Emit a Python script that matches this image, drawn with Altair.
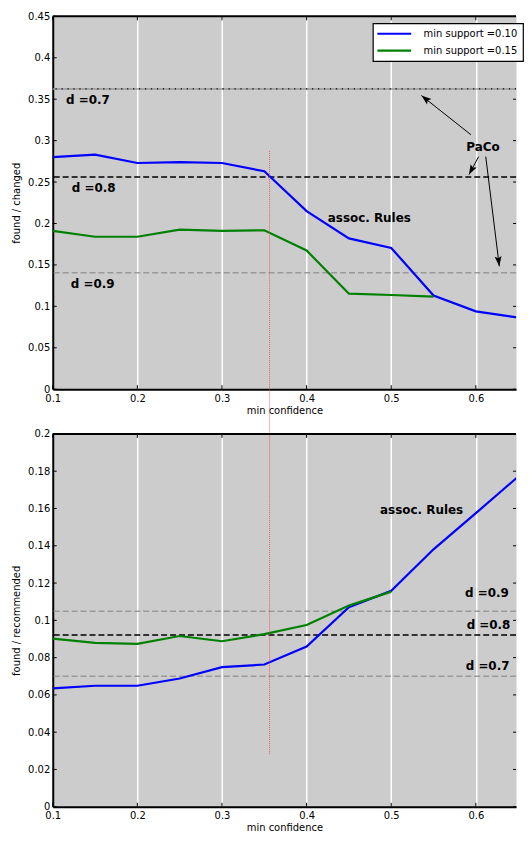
import math
import altair as alt
import pandas as pd

# ---------------- data ----------------
conf = [0.1, 0.15, 0.2, 0.25, 0.3, 0.35, 0.4, 0.45, 0.5, 0.55, 0.6, 0.65]
series_names = ["min support =0.10", "min support =0.15"]

top_s010 = [0.280, 0.283, 0.273, 0.274, 0.273, 0.263, 0.215, 0.182, 0.1705, 0.113, 0.094, 0.0865]
top_s015 = [0.191, 0.184, 0.184, 0.1926, 0.191, 0.1918, 0.1674, 0.1153, 0.1137, 0.1117]

bot_s010 = [0.0635, 0.0649, 0.0649, 0.0688, 0.0749, 0.0763, 0.0860, 0.1070, 0.1158, 0.1381, 0.1575, 0.1771]
bot_s015 = [0.0902, 0.0879, 0.0874, 0.0916, 0.0888, 0.0926, 0.0975, 0.1079, 0.1154]

d_names = ["d =0.7", "d =0.8", "d =0.9"]
top_d_vals = [0.3624, 0.2562, 0.1405]
bot_d_vals = [0.0700, 0.0921, 0.1049]

# annotation text positions (data coords)
top_lbl_x = [0.1157, 0.1226, 0.1214, 0.4250, 0.5888]
top_lbl_y = [0.3493, 0.2428, 0.1267, 0.2061, 0.2925]
top_lbl_t = ["d =0.7", "d =0.8", "d =0.9", "assoc. Rules", "PaCo"]

bot_lbl_x = [0.4868, 0.5873, 0.5891, 0.5880]
bot_lbl_y = [0.1592, 0.1144, 0.0977, 0.0755]
bot_lbl_t = ["assoc. Rules", "d =0.9", "d =0.8", "d =0.7"]

# PaCo arrows (tail -> tip)
arr_x0 = [0.5942, 0.6033, 0.6117]
arr_y0 = [0.3071, 0.2807, 0.2807]
arr_x1 = [0.5357, 0.5919, 0.6277]
arr_y1 = [0.3544, 0.2590, 0.1484]

# red vertical marker
red_x = 0.3562
red_top_y = 0.2874
red_bot_y = 0.0284

x_ticks = [0.1, 0.2, 0.3, 0.4, 0.5, 0.6]
top_y_ticks = [0, 0.05, 0.1, 0.15, 0.2, 0.25, 0.3, 0.35, 0.4, 0.45]
bot_y_ticks = [0, 0.02, 0.04, 0.06, 0.08, 0.1, 0.12, 0.14, 0.16, 0.18, 0.2]

# ---------------- layout / style ----------------
W, H = 466, 375
GAP = 45
XMIN, XMAX = 0.1, 0.6475
FONT = "DejaVu Sans"
BLUE, GREEN = "#0000ff", "#008000"
ARROW = "M0,0L-0.7,2L0,1.6L0.7,2Z"


def X(field):
    return alt.X(field, type="quantitative",
                 scale=alt.Scale(domain=[XMIN, XMAX], nice=False, zero=False),
                 axis=alt.Axis(values=x_ticks, title="min confidence", format="~g",
                               grid=True, gridColor="white", gridWidth=1.5, gridOpacity=1,
                               domainColor="black", domainWidth=2, tickSize=0,
                               labelFlush=False, labelPadding=4, titlePadding=2))


def make_Y(ymax, ticks, title):
    def Y(field):
        return alt.Y(field, type="quantitative",
                     scale=alt.Scale(domain=[0, ymax], nice=False, zero=True),
                     axis=alt.Axis(values=ticks, title=title, format="~g", grid=False,
                                   domainColor="black", domainWidth=2, tickSize=0,
                                   labelPadding=3, titlePadding=6))
    return Y


def panel(ymax, yticks, ytitle, s010, s015, dvals, dstyles, lx, ly, lt,
          legend_xy, red_part, arrows=None):
    Y = make_Y(ymax, yticks, ytitle)
    layers = []

    # reference (PaCo) lines
    for v, style in zip(dvals, dstyles):
        ddf = pd.DataFrame({"y": [v]})
        if style == "dotted":
            layers.append(alt.Chart(ddf).mark_rule(color="#999999", strokeWidth=1.5).encode(y=Y("y")))
            layers.append(alt.Chart(ddf).mark_rule(color="black", strokeWidth=1.2,
                                                   strokeDash=[1.2, 4.8]).encode(y=Y("y")))
        elif style == "black":
            layers.append(alt.Chart(ddf).mark_rule(color="black", strokeWidth=1.5,
                                                   strokeDash=[6, 3]).encode(y=Y("y")))
        else:
            layers.append(alt.Chart(ddf).mark_rule(color="#999999", strokeWidth=1.5,
                                                   strokeDash=[6, 3]).encode(y=Y("y")))

    # series lines
    rows = []
    for c, v in zip(conf, s010):
        rows.append({"conf": c, "val": v, "series": series_names[0]})
    for c, v in zip(conf, s015):
        rows.append({"conf": c, "val": v, "series": series_names[1]})
    sdf = pd.DataFrame(rows)
    layers.append(
        alt.Chart(sdf).mark_line(strokeWidth=2.2, clip=True).encode(
            x=X("conf"), y=Y("val"),
            color=alt.Color("series:N",
                            scale=alt.Scale(domain=series_names, range=[BLUE, GREEN]),
                            legend=alt.Legend(orient="none", legendX=legend_xy[0],
                                              legendY=legend_xy[1], title=None,
                                              symbolType="M-4.25,0H4.25", symbolSize=64,
                                              symbolStrokeWidth=2.2, symbolOffset=11,
                                              labelOffset=24, padding=5, rowPadding=6,
                                              fillColor="white", strokeColor="black",
                                              labelFont=FONT, labelFontSize=10,
                                              labelColor="black", cornerRadius=0)),
            detail="series:N",
        )
    )

    # red marker
    rdf = pd.DataFrame({"x": [red_x], "y": [red_part[0]]})
    if red_part[1] == "down":
        layers.append(alt.Chart(rdf).mark_rule(color="#ff4040", strokeWidth=1, opacity=0.8,
                                               strokeDash=[1, 1]).encode(
            x=X("x"), y=Y("y"), y2=alt.value(H + GAP)))
    else:
        layers.append(alt.Chart(rdf).mark_rule(color="#ff4040", strokeWidth=1, opacity=0.8,
                                               strokeDash=[1, 1]).encode(
            x=X("x"), y=Y("y"), y2=alt.value(0)))

    # texts
    tdf = pd.DataFrame({"x": lx, "y": ly, "t": lt})
    layers.append(alt.Chart(tdf).mark_text(font=FONT, fontSize=12, fontWeight="bold",
                                           align="left", baseline="middle", color="black").encode(
        x=X("x"), y=Y("y"), text="t:N"))

    # arrows
    if arrows is not None:
        pxx = W / (XMAX - XMIN)
        pxy = H / ymax
        angs = []
        for x0, y0, x1, y1 in zip(*arrows):
            dx = (x1 - x0) * pxx
            dy = -(y1 - y0) * pxy
            angs.append(math.degrees(math.atan2(dx, -dy)) % 360)
        adf = pd.DataFrame({"x0": arrows[0], "y0": arrows[1], "x1": arrows[2],
                            "y1": arrows[3], "ang": angs})
        layers.append(alt.Chart(adf).mark_rule(color="black", strokeWidth=1).encode(
            x=X("x0"), y=Y("y0"), x2="x1", y2="y1"))
        layers.append(alt.Chart(adf).mark_point(shape=ARROW, filled=True, size=100,
                                                color="black", opacity=1).encode(
            x=X("x1"), y=Y("y1"), angle=alt.Angle("ang:Q", scale=None)))

    # inward tick marks & top spine
    xt = pd.DataFrame({"x": x_ticks})
    yt = pd.DataFrame({"y": yticks})
    layers.append(alt.Chart(xt).mark_rule(color="black", strokeWidth=1).encode(
        x=X("x"), y=alt.value(H), y2=alt.value(H - 4)))
    layers.append(alt.Chart(xt).mark_rule(color="black", strokeWidth=1).encode(
        x=X("x"), y=alt.value(0), y2=alt.value(4)))
    layers.append(alt.Chart(yt).mark_rule(color="black", strokeWidth=1).encode(
        y=Y("y"), x=alt.value(0), x2=alt.value(4)))
    layers.append(alt.Chart(yt).mark_rule(color="black", strokeWidth=1).encode(
        y=Y("y"), x=alt.value(W - 3), x2=alt.value(W)))
    layers.append(alt.Chart(pd.DataFrame({"a": [0]})).mark_rule(color="black", strokeWidth=2).encode(
        x=alt.value(0), x2=alt.value(W), y=alt.value(0)))

    return alt.layer(*layers).properties(width=W, height=H)


top = panel(0.45, top_y_ticks, "found / changed", top_s010, top_s015, top_d_vals,
            ["dotted", "black", "gray"], top_lbl_x, top_lbl_y, top_lbl_t,
            (322, 7), (red_top_y, "down"),
            arrows=(arr_x0, arr_y0, arr_x1, arr_y1))

bottom = panel(0.2, bot_y_ticks, "found / recommended", bot_s010, bot_s015, bot_d_vals,
               ["gray", "black", "gray"], bot_lbl_x, bot_lbl_y, bot_lbl_t,
               (4.7, 6.6), (red_bot_y, "up"))

chart = alt.vconcat(top, bottom, spacing=GAP, bounds="flush").properties(
    padding={"left": 3, "top": 0, "right": 0, "bottom": 0}
).configure_view(fill="#cccccc", stroke="transparent").configure_axis(
    labelFont=FONT, labelFontSize=10, labelColor="black",
    titleFont=FONT, titleFontSize=10, titleFontWeight="normal", titleColor="black"
).configure_legend(strokeWidth=1.2)

chart.save("out.html", embed_options={"renderer": "svg", "actions": False})
